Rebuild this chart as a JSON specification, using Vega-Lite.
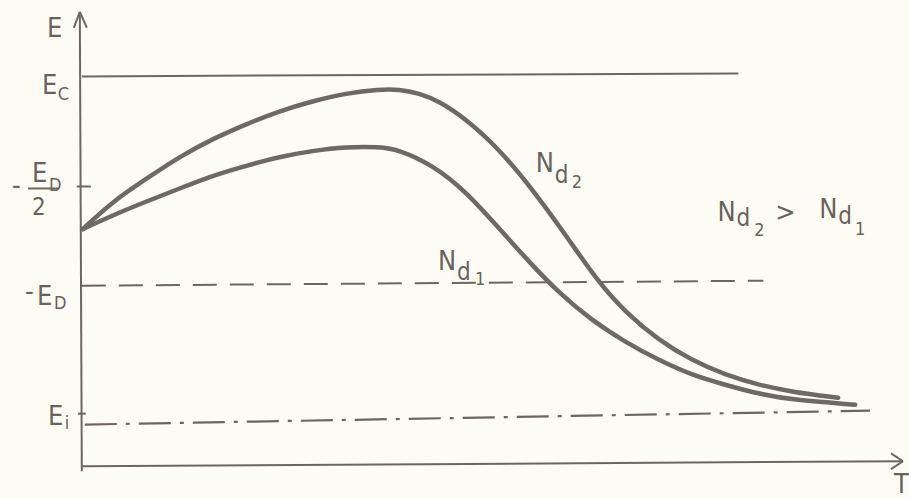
{
  "$schema": "https://vega.github.io/schema/vega-lite/v6.json",
  "width": 909,
  "height": 498,
  "padding": 0,
  "autosize": {"type": "fit", "contains": "padding"},
  "background": "#fdfcf4",
  "config": {"view": {"stroke": null}},
  "datasets": {
    "curves": [
      {"series": "Nd2", "T": 83, "E": 267}, {"series": "Nd2", "T": 113, "E": 295}, {"series": "Nd2", "T": 147, "E": 318},
      {"series": "Nd2", "T": 180, "E": 340}, {"series": "Nd2", "T": 213, "E": 358}, {"series": "Nd2", "T": 247, "E": 373},
      {"series": "Nd2", "T": 280, "E": 386}, {"series": "Nd2", "T": 313, "E": 396}, {"series": "Nd2", "T": 347, "E": 404},
      {"series": "Nd2", "T": 380, "E": 408}, {"series": "Nd2", "T": 400, "E": 408}, {"series": "Nd2", "T": 420, "E": 404},
      {"series": "Nd2", "T": 440, "E": 396}, {"series": "Nd2", "T": 467, "E": 378}, {"series": "Nd2", "T": 500, "E": 348},
      {"series": "Nd2", "T": 533, "E": 308}, {"series": "Nd2", "T": 567, "E": 261}, {"series": "Nd2", "T": 600, "E": 213},
      {"series": "Nd2", "T": 627, "E": 183}, {"series": "Nd2", "T": 660, "E": 155}, {"series": "Nd2", "T": 693, "E": 135},
      {"series": "Nd2", "T": 727, "E": 120}, {"series": "Nd2", "T": 760, "E": 110}, {"series": "Nd2", "T": 793, "E": 103},
      {"series": "Nd2", "T": 840, "E": 97},
      {"series": "Nd1", "T": 83, "E": 267}, {"series": "Nd1", "T": 113, "E": 281}, {"series": "Nd1", "T": 147, "E": 295},
      {"series": "Nd1", "T": 180, "E": 308}, {"series": "Nd1", "T": 213, "E": 321}, {"series": "Nd1", "T": 247, "E": 331},
      {"series": "Nd1", "T": 280, "E": 340}, {"series": "Nd1", "T": 313, "E": 346}, {"series": "Nd1", "T": 347, "E": 350},
      {"series": "Nd1", "T": 380, "E": 350}, {"series": "Nd1", "T": 400, "E": 347}, {"series": "Nd1", "T": 433, "E": 332},
      {"series": "Nd1", "T": 467, "E": 305}, {"series": "Nd1", "T": 500, "E": 268}, {"series": "Nd1", "T": 533, "E": 231},
      {"series": "Nd1", "T": 560, "E": 203}, {"series": "Nd1", "T": 593, "E": 175}, {"series": "Nd1", "T": 627, "E": 153},
      {"series": "Nd1", "T": 660, "E": 135}, {"series": "Nd1", "T": 693, "E": 120}, {"series": "Nd1", "T": 727, "E": 110},
      {"series": "Nd1", "T": 760, "E": 101}, {"series": "Nd1", "T": 793, "E": 95}, {"series": "Nd1", "T": 857, "E": 90}
    ],
    "solid": [
      {"name": "E axis", "x": 82, "y": 23, "x2": 80, "y2": 486},
      {"name": "T axis", "x": 82, "y": 28, "x2": 905, "y2": 33},
      {"name": "E arrow left", "x": 74, "y": 470, "x2": 80, "y2": 486},
      {"name": "E arrow right", "x": 80, "y": 486, "x2": 87, "y2": 470},
      {"name": "T arrow top", "x": 893, "y": 41, "x2": 905, "y2": 33},
      {"name": "T arrow bottom", "x": 905, "y": 33, "x2": 893, "y2": 25},
      {"name": "Ec", "x": 82, "y": 421, "x2": 740, "y2": 424},
      {"name": "ED/2 tick", "x": 77, "y": 310, "x2": 91, "y2": 310},
      {"name": "Ei tick", "x": 78, "y": 81, "x2": 86, "y2": 81},
      {"name": "fraction bar", "x": 28, "y": 308, "x2": 58, "y2": 308}
    ],
    "dashed": [
      {"name": "-ED", "x": 82, "y": 210, "x2": 765, "y2": 215}
    ],
    "dashdot": [
      {"name": "Ei", "x": 85, "y": 70, "x2": 872, "y2": 84}
    ],
    "mainText": [
      {"t": "E", "x": 47, "y": 461},
      {"t": "E", "x": 42, "y": 403},
      {"t": "-", "x": 12, "y": 302},
      {"t": "E", "x": 32, "y": 315},
      {"t": "-", "x": 25, "y": 196},
      {"t": "E", "x": 37, "y": 191},
      {"t": "E", "x": 48, "y": 70},
      {"t": "T", "x": 896, "y": 1},
      {"t": "N", "x": 537, "y": 325},
      {"t": "N", "x": 439, "y": 226},
      {"t": "N", "x": 719, "y": 275},
      {"t": ">", "x": 777, "y": 275},
      {"t": "N", "x": 821, "y": 278}
    ],
    "midText": [
      {"t": "d", "x": 556, "y": 314},
      {"t": "d", "x": 458, "y": 216},
      {"t": "d", "x": 738, "y": 270},
      {"t": "d", "x": 840, "y": 272},
      {"t": "2", "x": 32, "y": 281}
    ],
    "subText": [
      {"t": "C", "x": 58, "y": 397},
      {"t": "D", "x": 49, "y": 305},
      {"t": "D", "x": 54, "y": 186},
      {"t": "i", "x": 65, "y": 66},
      {"t": "2", "x": 573, "y": 308},
      {"t": "1", "x": 476, "y": 211},
      {"t": "2", "x": 756, "y": 260},
      {"t": "1", "x": 857, "y": 261}
    ]
  },
  "layer": [
    {
      "data": {"name": "solid"},
      "mark": {"type": "rule", "color": "#6e6560", "strokeWidth": 2},
      "encoding": {
        "x": {"field": "x", "type": "quantitative", "scale": {"domain": [0, 909], "nice": false, "zero": false}, "axis": null},
        "y": {"field": "y", "type": "quantitative", "scale": {"domain": [0, 498], "nice": false, "zero": false}, "axis": null},
        "x2": {"field": "x2"},
        "y2": {"field": "y2"}
      }
    },
    {
      "data": {"name": "dashed"},
      "mark": {"type": "rule", "color": "#6e6560", "strokeWidth": 2, "strokeDash": [24, 13]},
      "encoding": {
        "x": {"field": "x", "type": "quantitative"},
        "y": {"field": "y", "type": "quantitative"},
        "x2": {"field": "x2"},
        "y2": {"field": "y2"}
      }
    },
    {
      "data": {"name": "dashdot"},
      "mark": {"type": "rule", "color": "#6e6560", "strokeWidth": 2.2, "strokeDash": [32, 9, 4, 9]},
      "encoding": {
        "x": {"field": "x", "type": "quantitative"},
        "y": {"field": "y", "type": "quantitative"},
        "x2": {"field": "x2"},
        "y2": {"field": "y2"}
      }
    },
    {
      "data": {"name": "curves"},
      "mark": {"type": "line", "color": "#6f6864", "strokeWidth": 4.5, "interpolate": "basis", "strokeCap": "round"},
      "encoding": {
        "x": {"field": "T", "type": "quantitative"},
        "y": {"field": "E", "type": "quantitative"},
        "detail": {"field": "series", "type": "nominal"}
      }
    },
    {
      "data": {"name": "mainText"},
      "mark": {"type": "text", "align": "left", "baseline": "alphabetic", "font": "Liberation Sans Narrow, DejaVu Sans Condensed, DejaVu Sans", "fontSize": 27, "color": "#6a615c"},
      "encoding": {
        "x": {"field": "x", "type": "quantitative"},
        "y": {"field": "y", "type": "quantitative"},
        "text": {"field": "t"}
      }
    },
    {
      "data": {"name": "midText"},
      "mark": {"type": "text", "align": "left", "baseline": "alphabetic", "font": "Liberation Sans Narrow, DejaVu Sans Condensed, DejaVu Sans", "fontSize": 24, "color": "#6a615c"},
      "encoding": {
        "x": {"field": "x", "type": "quantitative"},
        "y": {"field": "y", "type": "quantitative"},
        "text": {"field": "t"}
      }
    },
    {
      "data": {"name": "subText"},
      "mark": {"type": "text", "align": "left", "baseline": "alphabetic", "font": "Liberation Sans Narrow, DejaVu Sans Condensed, DejaVu Sans", "fontSize": 18, "color": "#6a615c"},
      "encoding": {
        "x": {"field": "x", "type": "quantitative"},
        "y": {"field": "y", "type": "quantitative"},
        "text": {"field": "t"}
      }
    }
  ]
}
